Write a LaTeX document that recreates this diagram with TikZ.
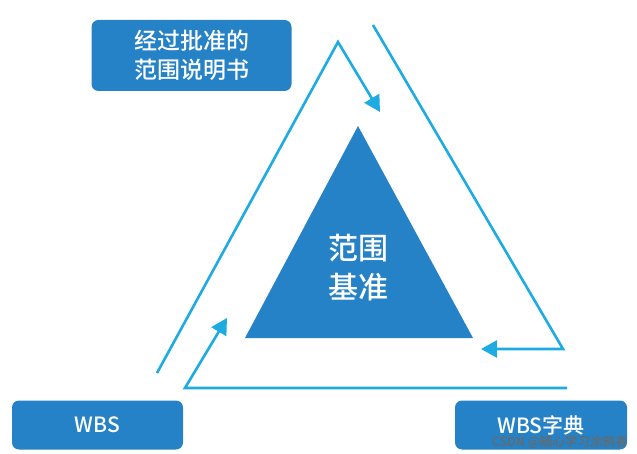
\documentclass[tikz,border=0pt]{standalone}
\usepackage{fontspec}
\setmainfont{Noto Sans CJK SC}[UprightFont=* Medium, BoldFont=* Bold]
\usetikzlibrary{arrows.meta}
\definecolor{boxblue}{RGB}{38,130,198}
\definecolor{linecyan}{RGB}{29,171,226}
\definecolor{filigris}{RGB}{105,105,105}

\begin{document}
\begin{tikzpicture}[x=1pt, y=-1pt,
    boite/.style={fill=boxblue, rounded corners=7pt, text=white, inner sep=0pt, align=center},
    fleche/.style={draw=linecyan, line width=2.6pt, line join=miter, -{Triangle[length=16pt, width=17pt]}}]
            % Cadre de l'image
            \useasboundingbox (0,0) rectangle (637,454);

            % Sommets du triangle central
            \coordinate (H) at (358,126);
            \coordinate (G) at (245,338);
            \coordinate (D) at (473,338);

            % Extrémités des flèches
            \coordinate (A1) at (157,373);
            \coordinate (A2) at (338,42);
            \coordinate (A3) at (380,112);
            \coordinate (B1) at (373,25);
            \coordinate (B2) at (563,349);
            \coordinate (B3) at (481,349);
            \coordinate (C1) at (567,388);
            \coordinate (C2) at (185,388);
            \coordinate (C3) at (227,318);

            % Triangle central
            \fill[boxblue] (H) -- (D) -- (G) -- cycle;
            \node[text=white, align=center, font=\fontsize{30}{39}\selectfont] (base) at (358,268) {范围\\基准};

            % Les trois flèches autour
            \draw[fleche] (A1) -- (A2) -- (A3);
            \draw[fleche] (B1) -- (B2) -- (B3);
            \draw[fleche] (C1) -- (C2) -- (C3);

            % Boîtes
            \node[boite, minimum width=200pt, minimum height=71pt, font=\fontsize{23}{29}\selectfont] (enonce) at (191.5,55.5) {经过批准的\\范围说明书};
            \node[boite, minimum width=171pt, minimum height=49pt, font=\fontsize{21}{25}\selectfont] (wbs) at (97.5,425) {WBS};
            \node[boite, minimum width=172pt, minimum height=49pt, font=\fontsize{21}{25}\selectfont] (dico) at (541,425) {WBS字典};

            % Filigrane
            \node[filigris, font=\fontsize{12.5}{14}\selectfont, anchor=east] (filigrane) at (631,442) {CSDN @随心学习涂鸦者};
        \end{tikzpicture}
\end{document}
